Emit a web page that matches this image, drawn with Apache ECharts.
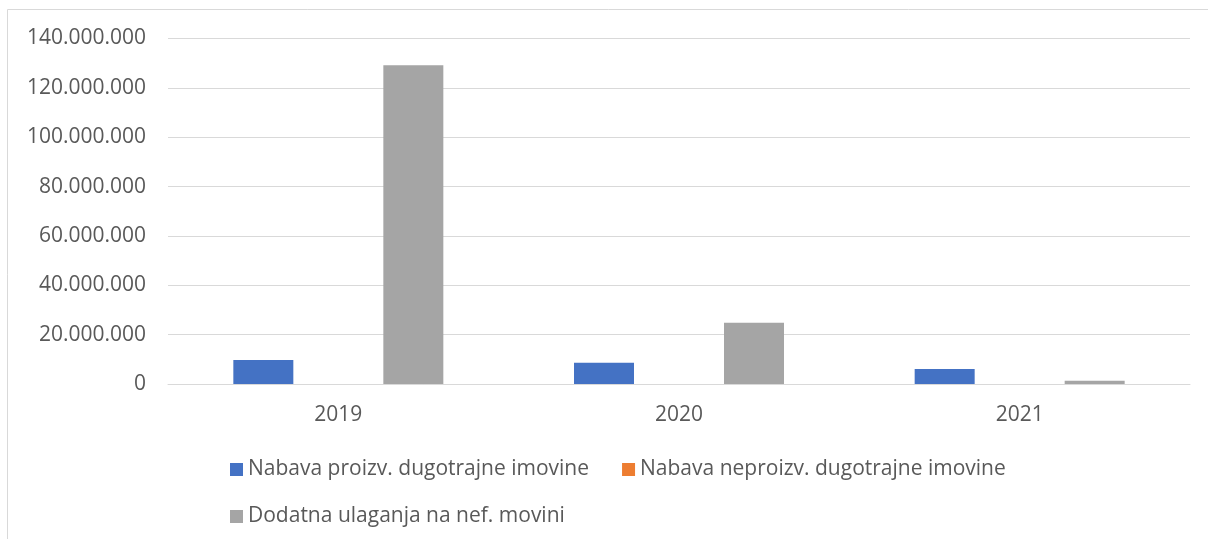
<!DOCTYPE html>
<html>
<head>
<meta charset="utf-8">
<script src="https://cdn.jsdelivr.net/npm/echarts@6/dist/echarts.min.js"></script>
<style>
  html, body { margin: 0; padding: 0; background: #fff; }
  #chart { width: 1208px; height: 539px; }
</style>
</head>
<body>
<div id="chart"></div>
<script>
// Investment spending by year (HRK)
const years = ['2019', '2020', '2021'];
const seriesNames = [
  'Nabava proizv. dugotrajne imovine',
  'Nabava neproizv. dugotrajne imovine',
  'Dodatna ulaganja na nef. movini'
];
const proizvodena = [9700000, 8600000, 6100000];
const neproizvodena = [0, 0, 0];
const dodatnaUlaganja = [129200000, 24800000, 1300000];
const colors = ['#4472c4', '#ed7d31', '#a5a5a5'];

const fmt = v => String(Math.round(v)).replace(/\B(?=(\d{3})+(?!\d))/g, '.');

const chart = echarts.init(document.getElementById('chart'), null, { renderer: 'canvas' });

const textStyle = { color: '#595959', fontFamily: 'Open Sans', fontSize: 21 };

chart.setOption({
  animation: false,
  color: colors,
  graphic: [{
    type: 'rect',
    silent: true,
    shape: { x: 7.5, y: 9.5, width: 1400, height: 700 },
    style: { fill: 'none', stroke: '#d9d9d9', lineWidth: 1 }
  }],
  grid: { left: 168, right: 18, top: 38.5, bottom: 155 },
  legend: [
    {
      data: [seriesNames[0], seriesNames[1]],
      left: 230, top: 459, padding: 0,
      itemWidth: 13, itemHeight: 13, itemGap: 33,
      icon: 'rect',
      textStyle: textStyle
    },
    {
      data: [seriesNames[2]],
      left: 230, top: 506, padding: 0,
      itemWidth: 13, itemHeight: 13,
      icon: 'rect',
      textStyle: textStyle
    }
  ],
  xAxis: {
    type: 'category',
    data: years,
    axisLine: { lineStyle: { color: '#d9d9d9', width: 1 } },
    axisTick: { show: false },
    axisLabel: Object.assign({ margin: 21 }, textStyle)
  },
  yAxis: {
    type: 'value',
    min: 0, max: 140000000, interval: 20000000,
    axisLine: { show: false },
    axisTick: { show: false },
    splitLine: { lineStyle: { color: '#d9d9d9', width: 1 } },
    axisLabel: Object.assign({ margin: 22, formatter: fmt }, textStyle)
  },
  series: [
    { name: seriesNames[0], type: 'bar', data: proizvodena, barWidth: 60, barGap: '25%' },
    { name: seriesNames[1], type: 'bar', data: neproizvodena, barWidth: 60, barGap: '25%' },
    { name: seriesNames[2], type: 'bar', data: dodatnaUlaganja, barWidth: 60, barGap: '25%' }
  ]
});
</script>
</body>
</html>
